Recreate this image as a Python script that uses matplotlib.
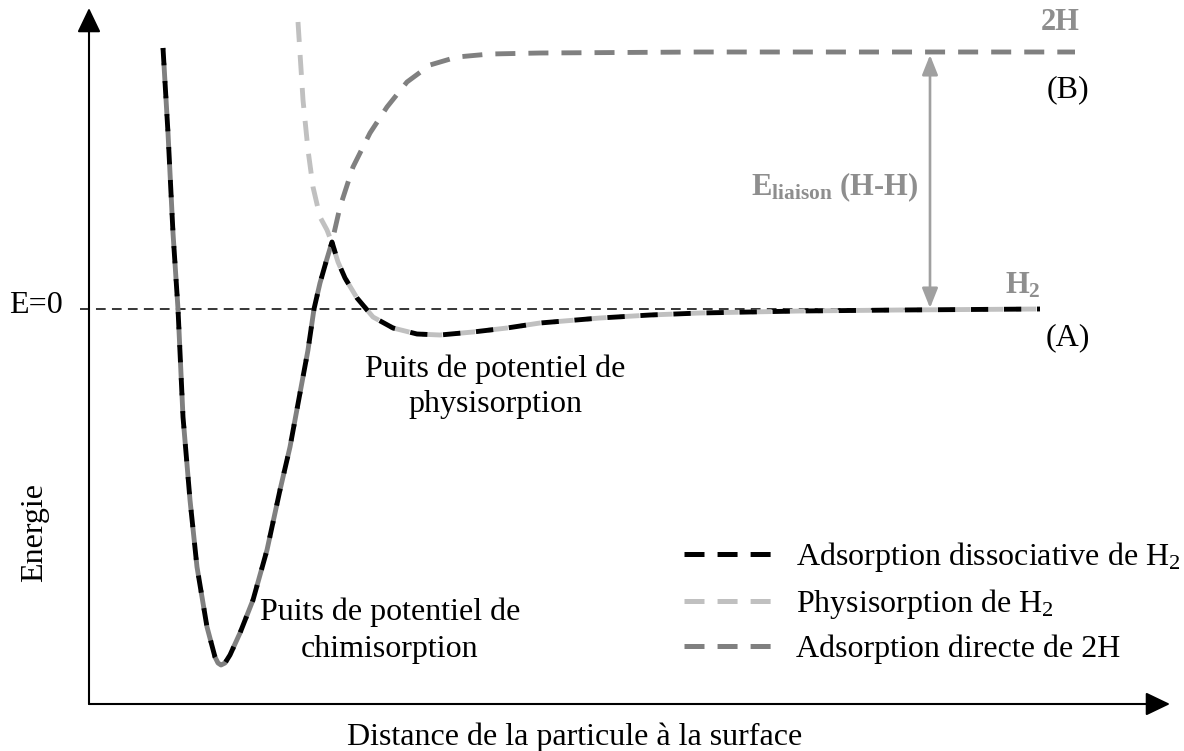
import matplotlib
matplotlib.use("Agg")
import matplotlib.pyplot as plt
from matplotlib.lines import Line2D
from matplotlib.patches import FancyArrowPatch, ArrowStyle

plt.rcParams['font.family'] = ['Liberation Serif', 'DejaVu Serif']
plt.rcParams['font.size'] = 23
plt.rcParams['mathtext.fontset'] = 'custom'
plt.rcParams['mathtext.rm'] = 'Liberation Serif'
plt.rcParams['mathtext.it'] = 'Liberation Serif:italic'
plt.rcParams['mathtext.bf'] = 'Liberation Serif:bold'
plt.rcParams['lines.scale_dashes'] = False

# ---- data (distance, energy) ----
direct_x = [0.74, 0.79, 0.84, 0.89, 0.94, 1.01, 1.08, 1.18, 1.26, 1.29, 1.32, 1.36, 1.41, 1.51,
            1.64, 1.78, 1.91, 2.01, 2.11, 2.19, 2.25, 2.31, 2.37, 2.43, 2.51, 2.64,
            2.81, 2.98, 3.18, 3.41, 3.68, 4.01, 4.51, 6.11, 9.86]
direct_e = [2.61, 1.76, 0.76, 0.00, -1.08, -1.91, -2.58, -3.18, -3.48, -3.54, -3.56, -3.54, -3.46, -3.24,
            -2.91, -2.41, -1.81, -1.38, -0.84, -0.41, 0.00, 0.26, 0.47, 0.67, 1.02, 1.42,
            1.76, 2.02, 2.27, 2.44, 2.52, 2.55, 2.56, 2.57, 2.57]

physi_x = [2.09, 2.14, 2.19, 2.24, 2.31, 2.38, 2.43, 2.49, 2.56, 2.68, 2.84, 3.04,
           3.28, 3.51, 3.84, 4.18, 4.51, 5.11, 5.61, 6.11, 7.11, 8.11, 9.51]
physi_e = [2.87, 2.09, 1.59, 1.22, 0.92, 0.79, 0.66, 0.47, 0.31, 0.11, -0.08, -0.19,
           -0.25, -0.26, -0.23, -0.19, -0.14, -0.09, -0.06, -0.04, -0.02, -0.01, 0.00]

dissoc_x = [0.74, 0.79, 0.84, 0.89, 0.94, 1.01, 1.08, 1.18, 1.26, 1.29, 1.32, 1.36, 1.41, 1.51,
            1.64, 1.78, 1.91, 2.01, 2.11, 2.19, 2.25, 2.31, 2.37, 2.43, 2.49, 2.56,
            2.68, 2.84, 3.04, 3.28, 3.51, 3.84, 4.18, 4.51, 5.11, 5.61, 6.11, 7.11,
            8.11, 9.51]
dissoc_e = [2.61, 1.76, 0.76, 0.00, -1.08, -1.91, -2.58, -3.18, -3.48, -3.54, -3.56, -3.54, -3.46, -3.24,
            -2.91, -2.41, -1.81, -1.38, -0.84, -0.41, 0.00, 0.26, 0.47, 0.67, 0.47, 0.31,
            0.11, -0.08, -0.19, -0.25, -0.26, -0.23, -0.19, -0.14, -0.09, -0.06, -0.04, -0.02,
            -0.01, 0.00]

labels = ['Adsorption dissociative de $\\mathrm{H_2}$',
          'Physisorption de $\\mathrm{H_2}$',
          'Adsorption directe de 2H']

zero_x = [-0.09, 9.51]
bond_x = 8.41
bond_e = [2.54, 0.01]

# ---- styles ----
C_BLACK = '#000000'
C_LIGHT = '#c0c0c0'
C_GRAY = '#808080'
C_TXT = '#8e8e8e'
C_ARR = '#a0a0a0'
LW = 3.5
DASH = (14.4, 9.4)
DASH_BLACK = (12.5, 11.3)

fig = plt.figure(figsize=(11.84, 7.51), dpi=100)
ax = fig.add_axes([89 / 1184, 47 / 751, 1081 / 1184, 696 / 751])
ax.set_xlim(0, 10.81)
ax.set_ylim(-3.95, 3.01)
for s in ax.spines.values():
    s.set_visible(False)
ax.set_xticks([])
ax.set_yticks([])
ax.patch.set_alpha(0)

# axes with arrows
axstyle = ArrowStyle('-|>', head_length=15, head_width=7.2)
for end in [(0, 1), (1, 0)]:
    ax.add_patch(FancyArrowPatch((0, 0), end, transform=ax.transAxes,
                                 arrowstyle=axstyle, mutation_scale=1,
                                 color='black', lw=1.5, shrinkA=0, shrinkB=0,
                                 clip_on=False))

# E=0 reference line
ax.plot(zero_x, [0, 0], color='black', lw=1.1, dashes=(7, 4.5), clip_on=False)

# curves
ax.plot(direct_x, direct_e, color=C_GRAY, lw=LW, linestyle=(13.0, DASH),
        dash_capstyle='butt', dash_joinstyle='round')
ax.plot(physi_x, physi_e, color=C_LIGHT, lw=LW, linestyle=(0, DASH),
        dash_capstyle='butt', dash_joinstyle='round')
ax.plot(dissoc_x, dissoc_e, color=C_BLACK, lw=LW, linestyle=(0, DASH_BLACK),
        dash_capstyle='butt', dash_joinstyle='round')

# bond energy arrow
ax.add_patch(FancyArrowPatch((bond_x, bond_e[0]), (bond_x, bond_e[1]),
                             arrowstyle=ArrowStyle('<|-|>', head_length=12, head_width=4.8),
                             mutation_scale=1, color=C_ARR, lw=1.9,
                             shrinkA=0, shrinkB=0))

# texts
ax.text(8.29, 1.14, '$\\mathbf{E_{liaison}}$ (H-H)', color=C_TXT, fontweight='bold',
        ha='right', va='baseline', fontsize=22)
ax.text(9.71, 2.79, '2H', color=C_TXT, fontweight='bold', ha='center', va='baseline',
        fontsize=22)
ax.text(9.16, 0.15, '$\\mathbf{H_2}$', color=C_TXT, ha='left', va='baseline', fontsize=22)
ax.text(9.79, 2.12, '(B)', ha='center', va='baseline')
ax.text(9.79, -0.36, '(A)', ha='center', va='baseline')
ax.text(-0.26, -0.04, 'E=0', ha='right', va='baseline')

ax.text(4.06, -0.68, 'Puits de potentiel de', ha='center', va='baseline')
ax.text(4.06, -1.03, 'physisorption', ha='center', va='baseline')
ax.text(3.01, -3.11, 'Puits de potentiel de', ha='center', va='baseline')
ax.text(3.01, -3.48, 'chimisorption', ha='center', va='baseline')

ax.text(4.86, -4.36, 'Distance de la particule à la surface', ha='center', va='baseline')
ax.text(-0.54, -2.24, 'Energie', rotation=90, ha='center', va='center')

handles = [Line2D([], [], color=c, lw=3.6, dashes=DASH, dash_capstyle='butt')
           for c in (C_BLACK, C_LIGHT, C_GRAY)]
ax.legend(handles, labels, loc='upper left', bbox_to_anchor=(0.550, 0.2356),
          frameon=False, borderpad=0, borderaxespad=0, handlelength=2.76,
          handletextpad=0.75, labelspacing=0.42, fontsize=23)

fig.savefig('out.png', dpi=100)
